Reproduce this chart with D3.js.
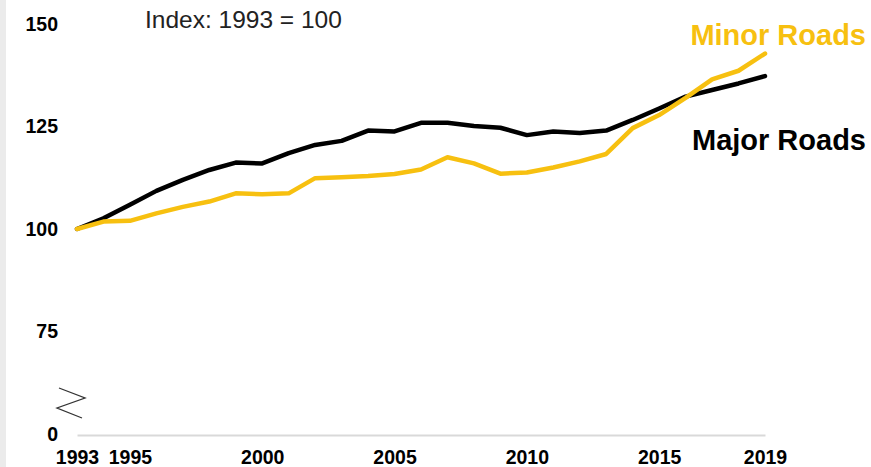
<!DOCTYPE html>
<html>
<head>
<meta charset="utf-8">
<script src="https://cdn.jsdelivr.net/npm/d3@7"></script>
<style>
  html, body { margin: 0; padding: 0; background: #ffffff; }
  svg { display: block; font-family: "Liberation Sans", Arial, sans-serif; }
</style>
</head>
<body>
<svg id="chart" width="871" height="467"></svg>
<script>
// Traffic index by road type, 1993 = 100
const years = d3.range(1993, 2020);
const majorRoads = [100, 102.6, 105.9, 109.3, 112.0, 114.4, 116.2, 116.0, 118.5, 120.5, 121.5, 124.0, 123.8,
                    125.9, 125.9, 125.1, 124.7, 122.9, 123.8, 123.4, 124.0, 126.6, 129.4, 132.3, 133.9, 135.5, 137.3];
const minorRoads = [100, 101.8, 102.0, 103.8, 105.4, 106.7, 108.7, 108.5, 108.7, 112.4, 112.6, 112.9, 113.4,
                    114.5, 117.5, 116.0, 113.5, 113.8, 115.0, 116.5, 118.3, 124.6, 127.8, 132.0, 136.5, 138.6, 142.8];
const xTickValues = [1993, 1995, 2000, 2005, 2010, 2015, 2019];
const yTickValues = [0, 75, 100, 125, 150];

const svg = d3.select("#chart");

// light panel edge on the left
svg.append("rect").attr("x", 0).attr("y", 0).attr("width", 6).attr("height", 467).attr("fill", "#ebebeb");

const x = d3.scaleLinear().domain([1993, 2019]).range([77, 765]);
// broken axis: 0 sits directly below 75
const y = d3.scaleLinear().domain([0, 75, 150]).range([434, 331.5, 24]);

// x axis
const xAxis = svg.append("g")
  .attr("transform", "translate(0,435)")
  .call(d3.axisBottom(x).tickValues(xTickValues).tickFormat(d3.format("d")).tickSize(0).tickSizeOuter(0).tickPadding(15));
xAxis.select(".domain").attr("stroke", "#d9d9d9").attr("stroke-width", 2);
xAxis.selectAll("text").attr("font-size", 19.5).attr("font-weight", "bold").attr("fill", "#000")
  .attr("font-family", "Liberation Sans, Arial, sans-serif");

// y axis
const yAxis = svg.append("g")
  .attr("transform", "translate(58,0)")
  .call(d3.axisLeft(y).tickValues(yTickValues).tickFormat(d3.format("d")).tickSize(0).tickPadding(0));
yAxis.select(".domain").remove();
yAxis.selectAll("text").attr("font-size", 19.5).attr("font-weight", "bold").attr("fill", "#000")
  .attr("font-family", "Liberation Sans, Arial, sans-serif");

// axis break mark
svg.append("path")
  .attr("d", "M59,388 L85,398 L57,408 L82,418")
  .attr("fill", "none").attr("stroke", "#333").attr("stroke-width", 1.3);

const line = d3.line().x((d, i) => x(years[i])).y(d => y(d));

svg.append("path").datum(majorRoads)
  .attr("d", line).attr("fill", "none").attr("stroke", "#000000")
  .attr("stroke-width", 4.5).attr("stroke-linejoin", "round").attr("stroke-linecap", "round");

svg.append("path").datum(minorRoads)
  .attr("d", line).attr("fill", "none").attr("stroke", "#f7c010")
  .attr("stroke-width", 4.5).attr("stroke-linejoin", "round").attr("stroke-linecap", "round");

// series labels
svg.append("text").attr("x", 866).attr("y", 45).attr("text-anchor", "end")
  .attr("font-size", 29).attr("font-weight", "bold").attr("fill", "#f7c010").text("Minor Roads");
svg.append("text").attr("x", 866).attr("y", 150).attr("text-anchor", "end")
  .attr("font-size", 29).attr("font-weight", "bold").attr("fill", "#000").text("Major Roads");

// index note
svg.append("text").attr("x", 145).attr("y", 28)
  .attr("font-size", 24.5).attr("fill", "#222").text("Index: 1993 = 100");
</script>
</body>
</html>
